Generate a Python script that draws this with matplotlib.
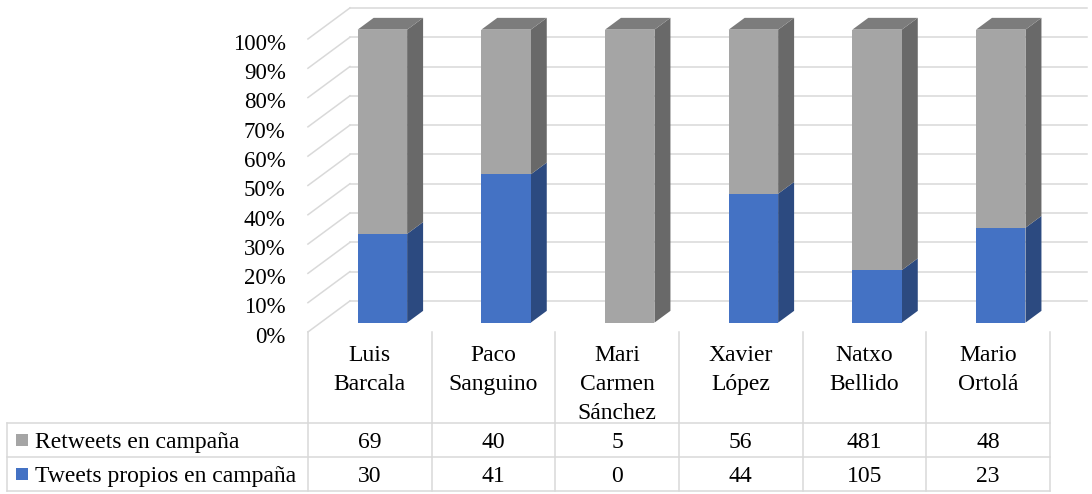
import matplotlib.pyplot as plt
import numpy as np
from matplotlib.patches import Polygon, Rectangle

# ---- datos ----
categories = ["Luis\nBarcala", "Paco\nSanguino", "Mari\nCarmen\nSánchez",
              "Xavier\nLópez", "Natxo\nBellido", "Mario\nOrtolá"]
retweets = [69, 40, 5, 56, 481, 48]
propios = [30, 41, 0, 44, 105, 23]
series_names = ["Retweets en campaña", "Tweets propios en campaña"]
y_ticks = list(range(0, 101, 10))

# ---- estilo ----
BLUE, BLUE_SIDE, BLUE_TOP = "#4472C4", "#2C4A80", "#3A62A8"
GRAY, GRAY_SIDE, GRAY_TOP = "#A5A5A5", "#696969", "#7C7C7C"
GRID = "#D9D9D9"
FS = 17
FS_TICK = 16.5

plt.rcParams["font.family"] = ["Liberation Serif", "DejaVu Serif"]

# profundidad de la caja 3D (en unidades de datos)
DX, DY = 0.34, 10.6
D0, D1 = 0.30, 0.68      # cara frontal / trasera de la barra, fracción de la profundidad
BAR_W = 0.40


def draw_box(ax, xc, y0, y1, side, top, with_top):
    ox, oy = D0 * DX, D0 * DY
    ddx, ddy = (D1 - D0) * DX, (D1 - D0) * DY
    xl, xr = xc + ox - BAR_W / 2, xc + ox + BAR_W / 2
    yb, yt = y0 + oy, y1 + oy
    ax.add_patch(Polygon([(xr, yb), (xr + ddx, yb + ddy), (xr + ddx, yt + ddy), (xr, yt)],
                         closed=True, facecolor=side, edgecolor="none", zorder=3))
    if with_top:
        ax.add_patch(Polygon([(xl, yt), (xr, yt), (xr + ddx, yt + ddy), (xl + ddx, yt + ddy)],
                             closed=True, facecolor=top, edgecolor="none", zorder=3))


def main() -> None:
    fig = plt.figure(figsize=(10.92, 4.94), dpi=100)
    ax = fig.add_axes([0, 0, 1, 1])
    ax.set_xlim(-2.99, 5.84)
    ax.set_ylim(-55.3, 113.3)
    ax.axis("off")

    n = len(categories)
    x = np.arange(n)
    tot = np.array(retweets) + np.array(propios)
    pct_prop = np.array(propios) / tot * 100
    pct_rt = np.array(retweets) / tot * 100

    # paredes (lateral + fondo)
    left, right_end = -0.5, 5.80
    for v in y_ticks:
        ax.plot([left, left + DX], [v, v + DY], color=GRID, lw=1.1, zorder=1)
        ax.plot([left + DX, right_end], [v + DY, v + DY], color=GRID, lw=1.1, zorder=1)
        ax.text(left - 0.18, v - 1.8, f"{v}%", ha="right", va="center", fontsize=FS_TICK)

    # barras apiladas 100 %
    for i in range(n):
        draw_box(ax, x[i], 0, pct_prop[i], BLUE_SIDE, BLUE_TOP, False)
        draw_box(ax, x[i], pct_prop[i], 100, GRAY_SIDE, GRAY_TOP, True)
    ax.bar(x + D0 * DX, pct_prop, width=BAR_W, bottom=D0 * DY, color=BLUE, zorder=4)
    ax.bar(x + D0 * DX, pct_rt, width=BAR_W, bottom=D0 * DY + pct_prop, color=GRAY, zorder=4)

    # tabla de datos
    t_top, t_h1, t_h2, t_bot = 0, -31.0, -42.6, -54.2
    t_left = -2.93
    edges = np.arange(n + 1) - 0.5
    for xe in edges:
        ax.plot([xe, xe], [t_top, t_bot], color=GRID, lw=1.1, zorder=1)
    ax.plot([t_left, t_left], [t_h1, t_bot], color=GRID, lw=1.1, zorder=1)
    for yl in (t_h1, t_h2, t_bot):
        ax.plot([t_left, edges[-1]], [yl, yl], color=GRID, lw=1.1, zorder=1)

    for i, name in enumerate(categories):
        ax.text(x[i], -4.6, name, ha="center", va="top", fontsize=FS, linespacing=1.48)

    rows = [(series_names[0], retweets, GRAY), (series_names[1], propios, BLUE)]
    for (label, vals, col), (ya, yb) in zip(rows, [(t_h1, t_h2), (t_h2, t_bot)]):
        yc = (ya + yb) / 2
        ax.add_patch(Rectangle((-2.86, yc - 2.1), 0.097, 4.2, facecolor=col,
                               edgecolor="none"))
        ax.text(-2.71, yc - 0.9, label, ha="left", va="center", fontsize=FS)
        for i, v in enumerate(vals):
            ax.text(x[i], yc - 0.9, str(v), ha="center", va="center", fontsize=FS)

    fig.savefig("out.png", dpi=100)
    plt.close(fig)


if __name__ == "__main__":
    main()
